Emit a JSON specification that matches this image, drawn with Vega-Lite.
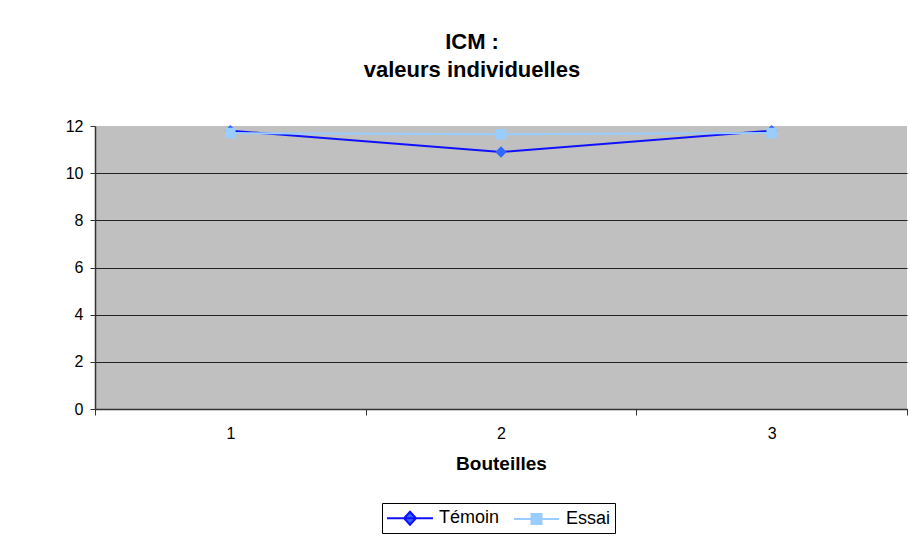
{
  "$schema": "https://vega.github.io/schema/vega-lite/v6.json",
  "width": 812,
  "height": 283,
  "autosize": {"type": "none"},
  "padding": {"left": 95, "top": 126, "right": 3, "bottom": 128},
  "background": "white",
  "config": {
    "font": "Liberation Sans",
    "view": {"fill": "#C0C0C0", "stroke": null}
  },
  "title": {
    "text": ["ICM :", "valeurs individuelles"],
    "font": "Liberation Sans",
    "fontSize": 22,
    "fontWeight": "bold",
    "color": "black",
    "lineHeight": 28,
    "anchor": "middle",
    "dx": -29,
    "offset": 36
  },
  "data": {
    "values": [
      {"bouteille": "1", "serie": "Témoin", "icm": 11.8},
      {"bouteille": "2", "serie": "Témoin", "icm": 10.9},
      {"bouteille": "3", "serie": "Témoin", "icm": 11.8},
      {"bouteille": "1", "serie": "Essai", "icm": 11.7},
      {"bouteille": "2", "serie": "Essai", "icm": 11.65},
      {"bouteille": "3", "serie": "Essai", "icm": 11.7}
    ]
  },
  "encoding": {
    "x": {
      "field": "bouteille",
      "type": "ordinal",
      "scale": {"type": "band", "paddingInner": 0, "paddingOuter": 0},
      "axis": {
        "title": "Bouteilles",
        "titleFont": "Liberation Sans",
        "titleFontSize": 19,
        "titleFontWeight": "bold",
        "titleColor": "black",
        "titlePadding": 13,
        "labelAngle": 0,
        "labelFont": "Liberation Sans",
        "labelFontSize": 16,
        "labelColor": "black",
        "labelPadding": 10,
        "tickBand": "extent",
        "tickSize": 6,
        "tickColor": "#333333",
        "domainColor": "#333333",
        "domainWidth": 1.5,
        "grid": false
      }
    },
    "y": {
      "field": "icm",
      "type": "quantitative",
      "scale": {"domain": [0, 12], "nice": false, "zero": true},
      "axis": {
        "title": null,
        "values": [0, 2, 4, 6, 8, 10, 12],
        "labelFont": "Liberation Sans",
        "labelFontSize": 16,
        "labelColor": "black",
        "labelPadding": 7,
        "tickSize": 5,
        "tickColor": "#333333",
        "domainColor": "#333333",
        "domainWidth": 1.5,
        "grid": true,
        "gridColor": {"condition": {"test": "datum.value == 12", "value": "transparent"}, "value": "#222222"},
        "gridWidth": 1,
        "gridOpacity": 1
      }
    }
  },
  "layer": [
    {
      "mark": {"type": "line", "strokeWidth": 2},
      "encoding": {
        "stroke": {
          "field": "serie",
          "type": "nominal",
          "scale": {"domain": ["Témoin", "Essai"], "range": ["#1010FF", "#99CCFF"]},
          "legend": {
            "title": null,
            "orient": "none",
            "legendX": 287,
            "legendY": 377,
            "direction": "horizontal",
            "columns": 2,
            "strokeColor": "black",
            "padding": 4,
            "columnPadding": 10,
            "labelFont": "Liberation Sans",
            "labelFontSize": 18,
            "labelColor": "black",
            "labelOffset": 31,
            "symbolSize": 400,
            "symbolStrokeWidth": 2,
            "encode": {
              "symbols": {
                "update": {
                  "shape": {"signal": "datum.value === 'Témoin' ? 'M-1,0H3.6M1.3,-0.65L1.9,0L1.3,0.65L0.7,0Z' : 'M-1,0H3.5M0.75,-0.5H1.75V0.5H0.75Z'"},
                  "fill": {"signal": "datum.value === 'Témoin' ? '#3366FF' : '#99CCFF'"},
                  "fillOpacity": {"value": 1},
                  "opacity": {"value": 1}
                }
              }
            }
          }
        }
      }
    },
    {
      "transform": [{"filter": "datum.serie === 'Témoin'"}],
      "mark": {"type": "point", "filled": true, "opacity": 1, "size": 130, "shape": "diamond", "color": "#3366FF"}
    },
    {
      "transform": [{"filter": "datum.serie === 'Essai'"}],
      "mark": {"type": "point", "filled": true, "opacity": 1, "size": 110, "shape": "square", "color": "#99CCFF"}
    }
  ]
}
